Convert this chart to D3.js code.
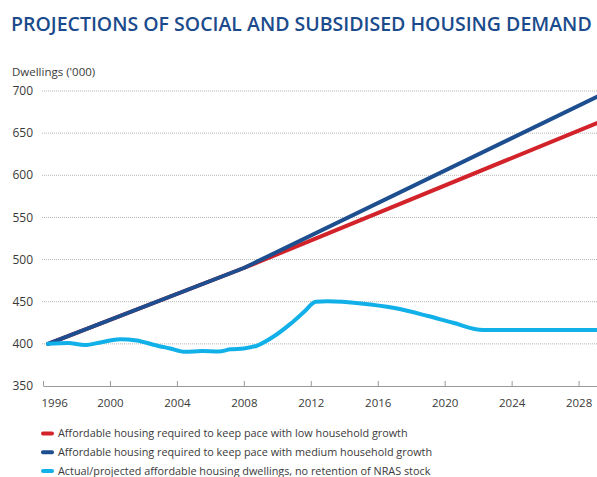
<!DOCTYPE html>
<html><head><meta charset="utf-8">
<script src="https://cdn.jsdelivr.net/npm/d3@7"></script>
<style>
body{margin:0;background:#fff;}
svg{display:block;font-family:"Open Sans",Lato,sans-serif;}
</style></head>
<body><svg id="chart" width="597" height="477"></svg>
<script>
const title = "PROJECTIONS OF SOCIAL AND SUBSIDISED HOUSING DEMAND";
const yAxisTitle = "Dwellings ('000)";
const yTicks = [350, 400, 450, 500, 550, 600, 650, 700];
const xTicks = [1996, 2000, 2004, 2008, 2012, 2016, 2020, 2024, 2028];
const seriesNames = [
  "Affordable housing required to keep pace with low household growth",
  "Affordable housing required to keep pace with medium household growth",
  "Actual/projected affordable housing dwellings, no retention of NRAS stock"
];
const seriesColors = ["#d2232a", "#1d4e8f", "#12b0e8"];
const lowYears = [1996.3, 2008, 2029.1];
const lowValues = [400, 490, 662];
const medYears = [1996.3, 2008, 2029.1];
const medValues = [400, 490, 693];
const actYears = [1996.3, 1997.5, 1998.5, 1999.5, 2000.6, 2001.6, 2002.6, 2003.6, 2004.5, 2005.5, 2006.5, 2007.2, 2008, 2008.8, 2009.8, 2010.8, 2011.6, 2012.3, 2013, 2015, 2017, 2019, 2020.5, 2022.3, 2029.1];
const actValues = [400, 401, 398.5, 402, 405.5, 404, 399, 394.5, 390.5, 391.5, 391, 393.5, 394.5, 398, 409, 424, 438, 450, 450.5, 448, 442.5, 433, 425, 416.5, 416.5];

const svg = d3.select("#chart");
const x = d3.scaleLinear().domain([1996, 2029.1]).range([43, 597]);
const y = d3.scaleLinear().domain([350, 700]).range([386, 91]);

// title
const t = svg.append("text").attr("x", 11).attr("y", 31)
  .attr("fill", "#1b4b8c").attr("font-weight", 600)
  .attr("font-size", 20).text(title);
const tw = t.node().getComputedTextLength();
t.attr("font-size", 20 * 581 / tw);

svg.append("text").attr("x", 12).attr("y", 76).attr("fill", "#3a3a3a")
  .attr("font-size", 11.5).text(yAxisTitle);

// gridlines
svg.append("g").selectAll("line").data(yTicks.filter(d => d > 350)).join("line")
  .attr("x1", 42).attr("x2", 597).attr("y1", d => y(d)).attr("y2", d => y(d))
  .attr("stroke", "#b5b5b5").attr("stroke-width", 1).attr("stroke-dasharray", "1,1");

// y labels
svg.append("g").selectAll("text").data(yTicks).join("text")
  .attr("x", 33).attr("y", d => y(d)).attr("dy", "0.35em").attr("text-anchor", "end")
  .attr("fill", "#3a3a3a").attr("font-size", 12).text(d => d);

// x axis
const xa = svg.append("g").attr("transform", `translate(0,${y(350)})`)
  .call(d3.axisBottom(x).tickValues(xTicks).tickFormat(d3.format("d")).tickSizeInner(-5).tickSizeOuter(0).tickPadding(13));
xa.select(".domain").attr("stroke", "#999");
xa.selectAll(".tick line").attr("stroke", "#999");
xa.selectAll(".tick text").attr("fill", "#3a3a3a").attr("font-size", 11.5).attr("font-family", "'Open Sans',sans-serif");
xa.selectAll(".tick text").filter(d => d === 1996).attr("text-anchor", "start").attr("dx", -2);

// lines
const line = d3.line().x(d => x(d[0])).y(d => y(d[1])).curve(d3.curveMonotoneX);
const lineS = d3.line().x(d => x(d[0])).y(d => y(d[1]));
const data = [
  d3.zip(lowYears, lowValues),
  d3.zip(medYears, medValues),
  d3.zip(actYears, actValues)
];
data.forEach((pts, i) => {
  svg.append("path").datum(pts)
    .attr("d", i === 2 ? line : lineS)
    .attr("fill", "none").attr("stroke", seriesColors[i]).attr("stroke-width", 4)
    .attr("stroke-linejoin", "round").attr("stroke-linecap", "round");
});

// legend
const lg = svg.append("g").selectAll("g").data(seriesNames).join("g")
  .attr("transform", (d, i) => `translate(0,${433.5 + i * 18.7})`);
lg.append("line").attr("x1", 43).attr("x2", 52).attr("y1", 0).attr("y2", 0)
  .attr("stroke", (d, i) => seriesColors[i]).attr("stroke-width", 4).attr("stroke-linecap", "round");
const lt = lg.append("text").attr("x", 58).attr("y", 0).attr("dy", "0.35em")
  .attr("fill", "#3a3a3a").attr("font-size", 12).text(d => d);
const w0 = lt.nodes()[0].getComputedTextLength();
lt.attr("font-size", 12 * 350 / w0);
</script></body></html>
